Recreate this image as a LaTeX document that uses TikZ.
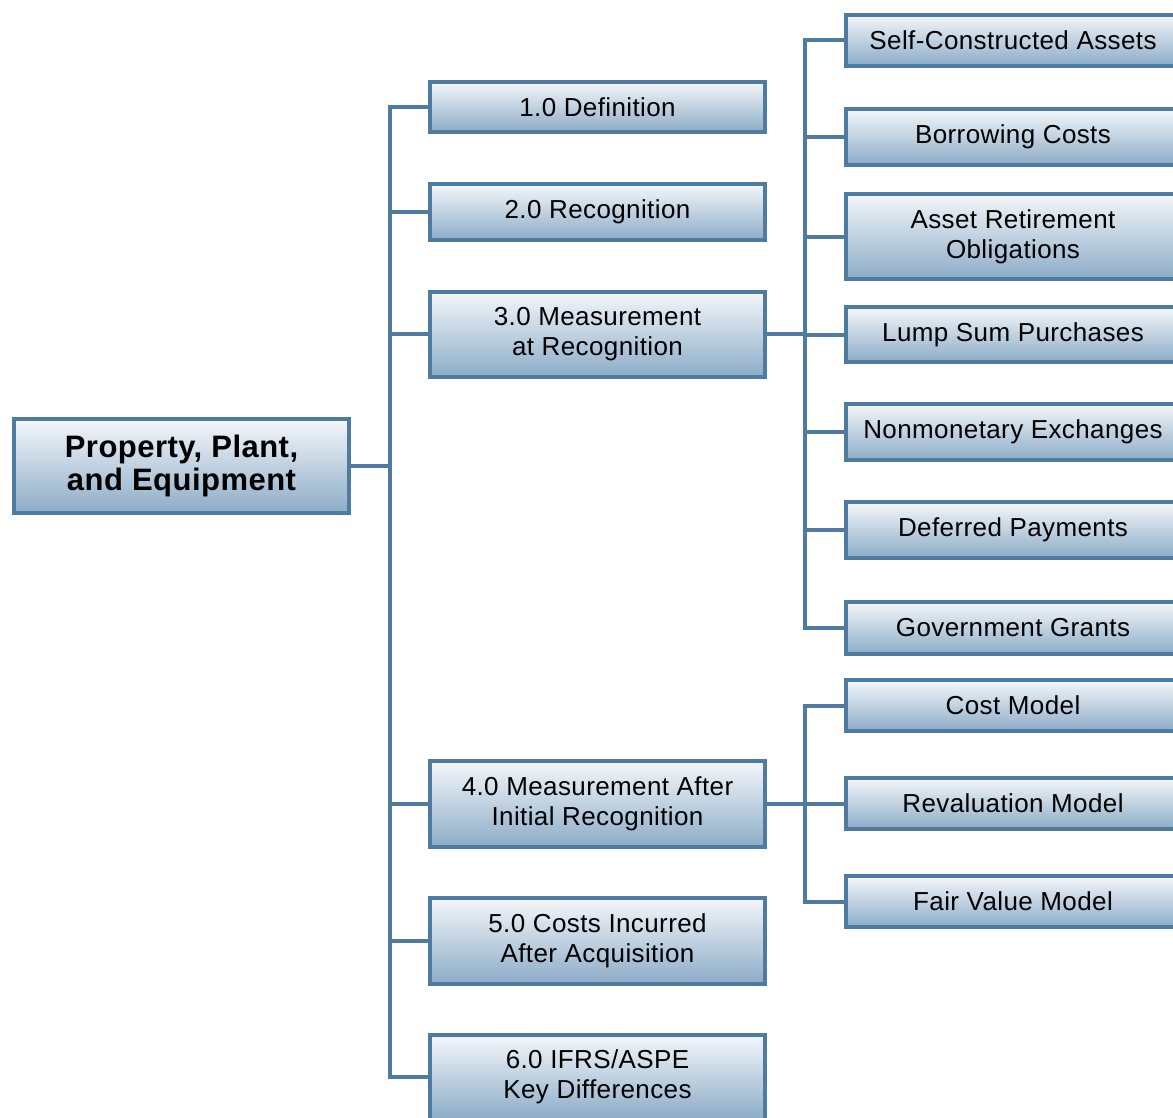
\documentclass[tikz,border=0pt]{standalone}
\usepackage{fontspec}
\setmainfont[LetterSpace=1.5]{Liberation Sans}
\definecolor{bord}{HTML}{4F7BA1}
\definecolor{topc}{HTML}{F4F7FA}
\definecolor{botc}{HTML}{8CACC7}
\tikzset{
  box/.style={draw=bord, line width=4pt, top color=topc, bottom color=botc,
    align=center, inner sep=0pt, minimum width=335pt,
    font=\fontsize{26}{30}\selectfont},
  rootbox/.style={box, font=\bfseries\fontsize{31}{33}\selectfont},
  conn/.style={draw=bord, line width=4pt}
}
\begin{document}
\begin{tikzpicture}[x=1pt,y=-1pt]
\useasboundingbox (0,0) rectangle (1173,1117);
\clip (0,0) rectangle (1173,1117);
\coordinate (t1) at (390,466);
\coordinate (t2) at (805,334);
\coordinate (t3) at (805,804);
% root
\node[rootbox, minimum height=94pt] (root) at (181.5,466) {Property, Plant,\\and Equipment};
% level 1
\node[box, minimum height=50pt] (c1) at (597.5,107) {1.0 Definition};
\node[box, minimum height=56pt] (c2) at (597.5,212) {2.0 Recognition};
\node[box, minimum height=85pt] (c3) at (597.5,334) {3.0 Measurement\\at Recognition};
\node[box, minimum height=86pt] (c4) at (597.5,804) {4.0 Measurement After\\Initial Recognition};
\node[box, minimum height=86pt] (c5) at (597.5,941) {5.0 Costs Incurred\\After Acquisition};
\node[box, minimum height=85pt] (c6) at (597.5,1077) {6.0 IFRS/ASPE\\Key Differences};
% level 2 under 3.0
\node[box, minimum height=51pt] (d1) at (1013,40) {Self-Constructed Assets};
\node[box, minimum height=56pt] (d2) at (1013,137) {Borrowing Costs};
\node[box, minimum height=85pt] (d3) at (1013,236.5) {Asset Retirement\\Obligations};
\node[box, minimum height=55pt] (d4) at (1013,334.5) {Lump Sum Purchases};
\node[box, minimum height=56pt] (d5) at (1013,432) {Nonmonetary Exchanges};
\node[box, minimum height=56pt] (d6) at (1013,530) {Deferred Payments};
\node[box, minimum height=52pt] (d7) at (1013,628) {Government Grants};
% level 2 under 4.0
\node[box, minimum height=51pt] (e1) at (1013,705.5) {Cost Model};
\node[box, minimum height=51pt] (e2) at (1013,803.5) {Revaluation Model};
\node[box, minimum height=51pt] (e3) at (1013,901.5) {Fair Value Model};
% connectors
\draw[conn] (root.east) -- (t1);
\foreach \n in {c1,c2,c3,c4,c5,c6} \draw[conn] (\n.west) -| (t1);
\draw[conn] (c3.east) -- (t2);
\foreach \n in {d1,d2,d3,d4,d5,d6,d7} \draw[conn] (\n.west) -| (t2);
\draw[conn] (c4.east) -- (t3);
\foreach \n in {e1,e2,e3} \draw[conn] (\n.west) -| (t3);
\end{tikzpicture}
\end{document}
